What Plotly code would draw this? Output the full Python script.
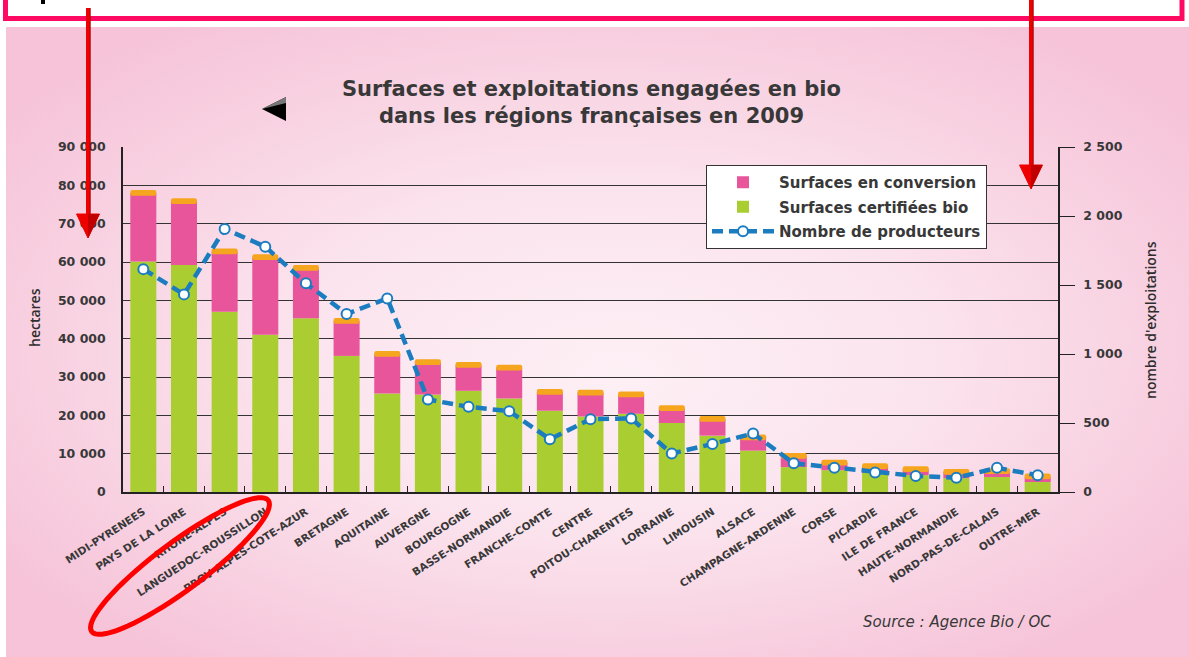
import base64
import numpy as np
import plotly.graph_objects as go
from plotly.subplots import make_subplots

# ---------------- data ----------------
regions = ["MIDI-PYRENEES", "PAYS DE LA LOIRE", "RHONE-ALPES", "LANGUEDOC-ROUSSILLON",
           "PROV-ALPES-COTE-AZUR", "BRETAGNE", "AQUITAINE", "AUVERGNE", "BOURGOGNE",
           "BASSE-NORMANDIE", "FRANCHE-COMTE", "CENTRE", "POITOU-CHARENTES", "LORRAINE",
           "LIMOUSIN", "ALSACE", "CHAMPAGNE-ARDENNE", "CORSE", "PICARDIE", "ILE DE FRANCE",
           "HAUTE-NORMANDIE", "NORD-PAS-DE-CALAIS", "OUTRE-MER"]
certifiees = [60100, 59200, 47000, 41000, 45300, 35500, 25700, 25400, 26400, 24400, 21200,
              19700, 20400, 18000, 14700, 10800, 6500, 5700, 5000, 4400, 3600, 3900, 2600]
conversion = [17900, 16600, 15700, 20200, 13100, 9100, 10300, 8400, 6700, 8000, 4900,
              6200, 5000, 3800, 4300, 3400, 2900, 1900, 1700, 1500, 1600, 1500, 1400]
producteurs = [1615, 1432, 1906, 1778, 1512, 1290, 1403, 670, 617, 586, 382, 528, 533,
               279, 348, 424, 208, 175, 141, 116, 103, 175, 121]
y_ticks = [0, 10000, 20000, 30000, 40000, 50000, 60000, 70000, 80000, 90000]
y2_ticks = [0, 500, 1000, 1500, 2000, 2500]

totals = [a + b for a, b in zip(certifiees, conversion)]

# ---------------- geometry ----------------
W, H = 1189, 657
ML, MR, MT, MB = 123, 131, 147, 165
PW, PH = W - ML - MR, H - MT - MB


def px(x):
    return (x - ML) / PW


def py(y):
    return (H - MB - y) / PH


GREEN = "#aacd32"
PINK = "#e8559b"
ORANGE = "#f6a51e"
BLUE = "#1b7cc0"
TXT = "#383838"
FONT = "Open Sans"
WIDE = "DejaVu Sans"

fig = make_subplots(specs=[[{"secondary_y": True}]])

fig.add_trace(go.Bar(x=regions, y=certifiees, base=[0] * len(regions),
                     name="Surfaces certifiées bio", marker=dict(color=GREEN, line=dict(width=0)),
                     width=0.64, legendrank=2, legendgroup="b"), secondary_y=False)
fig.add_trace(go.Bar(x=regions, y=conversion, base=certifiees,
                     name="Surfaces en conversion", marker=dict(color=PINK, line=dict(width=0)),
                     width=0.64, legendrank=1, legendgroup="a"), secondary_y=False)
fig.add_trace(go.Bar(x=regions, y=[1500] * len(regions), base=[t - 700 for t in totals],
                     name="cap", showlegend=False,
                     marker=dict(color=ORANGE, line=dict(width=0), cornerradius=5),
                     width=0.64), secondary_y=False)
fig.add_trace(go.Scatter(x=regions, y=producteurs, mode="lines+markers",
                         name="Nombre de producteurs",
                         line=dict(color=BLUE, width=4.5, dash="11px,6px"),
                         marker=dict(symbol="circle", size=10, color="white",
                                     line=dict(color=BLUE, width=2)),
                         legendrank=3, legendgroup="c"), secondary_y=True)

fig.update_layout(
    width=W, height=H,
    margin=dict(l=ML, r=MR, t=MT, b=MB, pad=0),
    barmode="overlay",
    paper_bgcolor="white",
    plot_bgcolor="rgba(0,0,0,0)",
    separators=", ",
    font=dict(family=FONT, color=TXT),
    legend=dict(x=px(706), y=py(165), xanchor="left", yanchor="top",
                bgcolor="white", bordercolor="#333333", borderwidth=1,
                font=dict(family=WIDE, size=15, color=TXT, weight="bold"),
                traceorder="grouped", tracegroupgap=2, itemwidth=62),
    showlegend=True,
)

fig.update_xaxes(type="category", domain=[0, 1], range=[-0.5, len(regions) - 0.5],
                 autorange=False, tickangle=-33, showgrid=False,
                 tickfont=dict(family=WIDE, size=10.5, color=TXT, weight="bold"),
                 ticks="inside", tickson="boundaries", ticklen=6, tickcolor="#222",
                 ticklabelstandoff=8,
                 showline=True, linecolor="#222", linewidth=1.5)
fig.update_yaxes(range=[0, 90000], tickvals=y_ticks, tickformat=",d",
                 showgrid=True, gridcolor="#333333", gridwidth=1,
                 showline=True, linecolor="#222", linewidth=1.5, ticks="",
                 ticklabelstandoff=13,
                 tickfont=dict(family=WIDE, size=12.5, color=TXT, weight="bold"),
                 zeroline=False, secondary_y=False)
fig.update_yaxes(range=[0, 2500], tickvals=y2_ticks, tickformat=",d",
                 showgrid=False, showline=True, linecolor="#222", linewidth=1.5,
                 ticks="outside", ticklen=15, tickcolor="#222", ticklabelstandoff=6,
                 tickfont=dict(family=WIDE, size=12.5, color=TXT, weight="bold"),
                 zeroline=False, secondary_y=True)

# ---------------- background gradient panel ----------------
svg = ('<svg xmlns="http://www.w3.org/2000/svg" width="1183" height="630" '
       'viewBox="0 0 1183 630" preserveAspectRatio="none"><defs>'
       '<radialGradient id="g" cx="0.5" cy="0.5" r="0.62" fx="0.52" fy="0.55">'
       '<stop offset="0" stop-color="#fdf0f5"/><stop offset="0.45" stop-color="#fbe3ed"/>'
       '<stop offset="1" stop-color="#f6c3d8"/></radialGradient></defs>'
       '<rect width="1183" height="630" fill="url(#g)"/></svg>')
src = "data:image/svg+xml;base64," + base64.b64encode(svg.encode()).decode()
fig.add_layout_image(dict(source=src, xref="paper", yref="paper",
                          x=px(6), y=py(27), sizex=(W - 6) / PW, sizey=(H - 27) / PH,
                          xanchor="left", yanchor="top", sizing="stretch", layer="below"))

# ---------------- texts ----------------
fig.add_annotation(text="Surfaces et exploitations engagées en bio<br>dans les régions françaises en 2009",
                   xref="paper", yref="paper", x=px(591), y=py(102), xanchor="center",
                   yanchor="middle", showarrow=False, align="center",
                   font=dict(family=WIDE, size=21, color=TXT, weight="bold"))
fig.add_annotation(text="hectares", xref="paper", yref="paper", x=px(34), y=py(318),
                   textangle=-90, showarrow=False, xanchor="center", yanchor="middle",
                   font=dict(family=FONT, size=14, color="#2e2e2e", weight=600))
fig.add_annotation(text="nombre d'exploitations", xref="paper", yref="paper", x=px(1150),
                   y=py(320), textangle=-90, showarrow=False, xanchor="center",
                   yanchor="middle", font=dict(family=FONT, size=14, color="#2e2e2e", weight=600))
fig.add_annotation(text="Source : Agence Bio / OC", xref="paper", yref="paper",
                   x=px(1053), y=py(622), xanchor="right", yanchor="middle", showarrow=False,
                   font=dict(family=WIDE, size=15, color=TXT, style="italic"))

# ---------------- decorations ----------------
shapes = []
# top magenta box
shapes.append(dict(type="rect", xref="paper", yref="paper", x0=px(5.5), x1=px(1182),
                   y0=py(-20), y1=py(18.5), line=dict(color="#ff0a62", width=5),
                   fillcolor="rgba(0,0,0,0)"))
# small black mark
shapes.append(dict(type="rect", xref="paper", yref="paper", x0=px(41), x1=px(45),
                   y0=py(0), y1=py(4), line=dict(width=0), fillcolor="black"))


def arrow(xc, ytop, ybase, ytip, half=11.5):
    out = [dict(type="line", xref="paper", yref="paper", x0=px(xc), x1=px(xc),
                y0=py(ytop), y1=py(ybase + 2), line=dict(color="#ee0000", width=4)),
           dict(type="line", xref="paper", yref="paper", x0=px(xc + 2.2), x1=px(xc + 2.2),
                y0=py(ytop), y1=py(ybase + 2), line=dict(color="#a00000", width=1))]
    path = (f"M {px(xc - half)} {py(ybase)} L {px(xc + half)} {py(ybase)} "
            f"L {px(xc)} {py(ytip)} Z")
    out.append(dict(type="path", xref="paper", yref="paper", path=path,
                    fillcolor="#ee0000", line=dict(color="#ee0000", width=1)))
    path2 = (f"M {px(xc)} {py(ybase)} L {px(xc + half)} {py(ybase)} "
             f"L {px(xc)} {py(ytip)} Z")
    out.append(dict(type="path", xref="paper", yref="paper", path=path2,
                    fillcolor="#c00000", line=dict(width=0)))
    return out


shapes += arrow(88, 8, 214, 238)
shapes += arrow(1031, -5, 165, 189)

# black left-pointing triangle near title
shapes.append(dict(type="path", xref="paper", yref="paper",
                   path=f"M {px(262)} {py(109)} L {px(286)} {py(97)} L {px(286)} {py(121)} Z",
                   fillcolor="black", line=dict(width=0)))
shapes.append(dict(type="path", xref="paper", yref="paper",
                   path=f"M {px(262)} {py(109)} L {px(286)} {py(97)} L {px(286)} {py(103)} Z",
                   fillcolor="#777777", line=dict(width=0)))

# red ellipse
cx, cy, a, b, ang = 180, 566, 110, 24, np.deg2rad(36.6)
t = np.linspace(0, 2 * np.pi, 73)
ex = cx + a * np.cos(t) * np.cos(ang) + b * np.sin(t) * np.sin(ang)
ey = cy - a * np.cos(t) * np.sin(ang) + b * np.sin(t) * np.cos(ang)
epath = "M " + " L ".join(f"{px(x):.5f} {py(y):.5f}" for x, y in zip(ex, ey)) + " Z"
shapes.append(dict(type="path", xref="paper", yref="paper", path=epath,
                   line=dict(color="#ff0000", width=5), fillcolor="rgba(0,0,0,0)"))

fig.update_layout(shapes=shapes)

fig.write_html("out.html", config={"displayModeBar": False},
               post_script="document.body.style.margin='0';document.body.style.overflow='hidden';")
